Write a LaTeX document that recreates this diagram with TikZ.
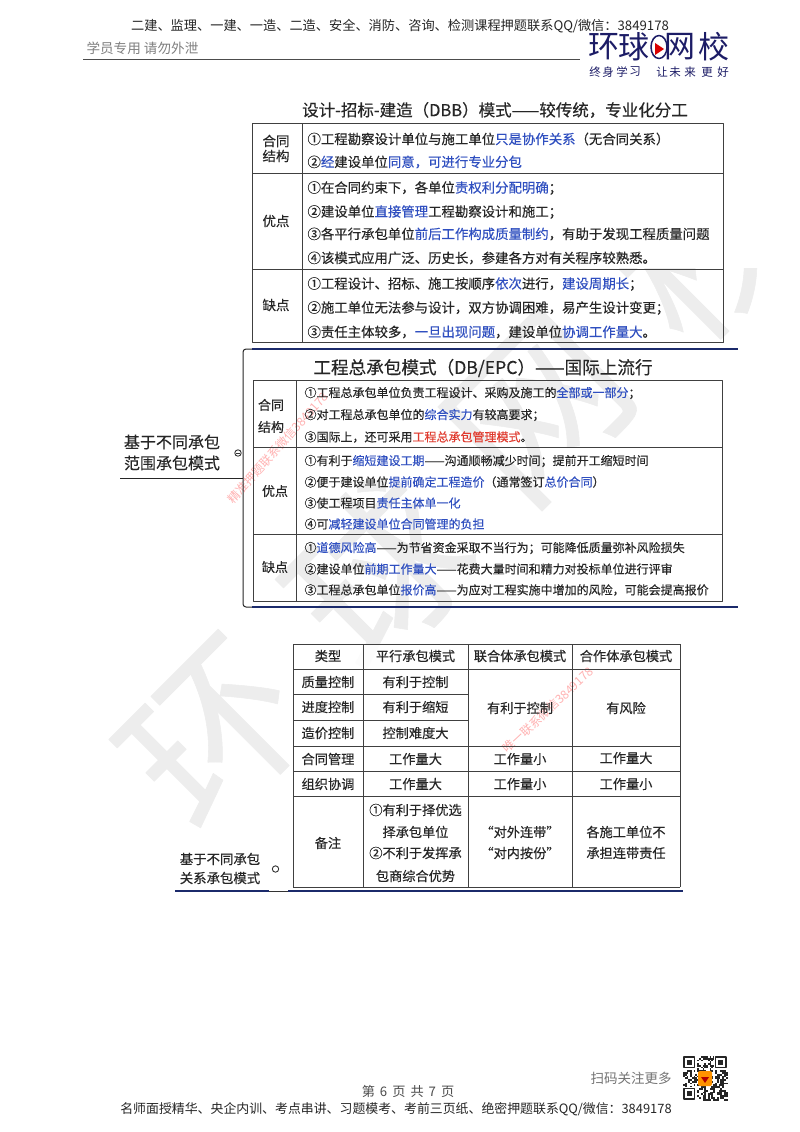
\documentclass[tikz,border=0pt]{standalone}
\usepackage{fontspec}
\setmainfont[FakeBold=0.3]{Noto Sans CJK SC}
\newfontfamily\lightcjk{Noto Sans CJK SC}
\definecolor{navy}{HTML}{1B2A6B}
\definecolor{logoblue}{HTML}{1C1C66}
\definecolor{hlblue}{HTML}{2F4FC0}
\definecolor{hlred}{HTML}{E03A2E}
\definecolor{inkgray}{HTML}{262626}
\newcommand{\hl}[1]{\textcolor{hlblue}{#1}}
\newcommand{\fs}[1]{\fontsize{#1}{#1}\selectfont}
\begin{document}
\begin{tikzpicture}[x=1pt, y=-1pt, line join=round, text=inkgray]
	\tikzset{
		grid line/.style={draw=black!75, line width=0.9pt},
		navy line/.style={draw=navy, line width=2.4pt},
		row one/.style={anchor=west, font=\fs{13.4}},
		row two/.style={anchor=west, font=\fs{12}},
		cell/.style={font=\fs{13.2}},
		side label/.style={font=\fs{13.5}},
		plain text/.style={font=\lightcjk\fs{13.2}}
	}
	\useasboundingbox[fill=white] (0,0) rectangle (800,1132);
	% watermark first
	\begin{scope}
		\clip (0,268) rectangle (800,1132);
		\foreach \c/\x/\y [count=\i] in {环/216/735,球/378/572,网/540/409,校/702/246}
		\node[gray!14, rotate=45, font=\fs{172}] (mark\i) at (\x,\y) {\c};
	\end{scope}
	\fill[white, opacity=0.85] (293,644) rectangle (680,887);
	\node[red!30, rotate=48, font=\lightcjk\fs{12}] (markA) at (278,448) {精准押题联系微信3849178};
	\node[red!30, rotate=43, font=\lightcjk\fs{12}] (markB) at (548,710) {唯一联系微信3849178};
	% page header
	\node[plain text] (head) at (400,26) {二建、监理、一建、一造、二造、安全、消防、咨询、检测课程押题联系QQ/微信：3849178};
	\node[plain text, gray, anchor=west, font=\lightcjk\fs{13.6}] (inner) at (83,48) {学员专用 请勿外泄};
	\draw[black!70, line width=0.9pt] (83,59.5) -- (580,59.5);
	\foreach \c/\x [count=\i] in {环/604,球/634,网/680,校/714}
	\node[logoblue, font=\lightcjk\fs{31}] (logo\i) at (\x,47) {\c};
	\draw[logoblue, line width=1.5pt] (659,47) ellipse (8 and 11.5);
	\fill[red!85!black] (655,43) -- (664,49) -- (655,55) -- cycle;
	\foreach \c/\x [count=\i] in {终/595,身/608,学/622,习/635,让/662,未/675,来/690,更/707,好/723}
	\node[logoblue, font=\lightcjk\fs{11.5}] (slogan\i) at (\x,72) {\c};
	% first table
	\node[font=\fs{16.5}] (titleA) at (495,110) {设计-招标-建造（DBB）模式——较传统，专业化分工};
	\draw[grid line] (252,123) rectangle (723,342);
	\draw[grid line] (302,123) -- (302,342);
	\foreach \y in {173,269}
	\draw[grid line] (252,\y) -- (723,\y);
	\foreach \y/\t in {141/合同,156/结构,221/优点,305/缺点}
	\node[side label] (sideA\y) at (276,\y) {\t};
	\foreach \y/\t in {
		139/{①工程勘察设计单位与施工单位\hl{只是协作关系}（无合同关系）},
		162/{②\hl{经}建设单位\hl{同意，可进行专业分包}},
		188/{①在合同约束下，各单位\hl{责权利分配明确}；},
		212/{②建设单位\hl{直接管理}工程勘察设计和施工；},
		234/{③各平行承包单位\hl{前后工作构成质量制约}，有助于发现工程质量问题},
		258/{④该模式应用广泛、历史长，参建各方对有关程序较熟悉。},
		284/{①工程设计、招标、施工按顺序\hl{依次}进行，\hl{建设周期长}；},
		308/{②施工单位无法参与设计，双方协调困难，易产生设计变更；},
		332/{③责任主体较多，\hl{一旦出现问题}，建设单位\hl{协调工作量大}。}}
	\node[row one] (lineA\y) at (304,\y) {\t};
	% second table
	\draw[navy line] (252,349) -- (738,349);
	\draw[navy line] (252,607) -- (738,607);
	\draw[black!85, line width=1pt, rounded corners=3pt] (252,349) -- (243,349) -- (243,607) -- (252,607);
	\node[font=\fs{17.6}] (titleB) at (483,368) {工程总承包模式（DB/EPC）——国际上流行};
	\draw[grid line] (253,380) rectangle (722,601);
	\draw[grid line] (296,380) -- (296,601);
	\foreach \y in {447,534}
	\draw[grid line] (253,\y) -- (722,\y);
	\foreach \x/\y/\t in {271/405/合同,271/427/结构,275/491/优点,275/567/缺点}
	\node[font=\fs{13}] (sideB\y) at (\x,\y) {\t};
	\foreach \y/\t in {
		393/{①工程总承包单位负责工程设计、采购及施工的\hl{全部或一部分}；},
		415/{②对工程总承包单位的\hl{综合实力}有较高要求；},
		437/{③国际上，还可采用\textcolor{hlred}{工程总承包管理模式}。},
		461/{①有利于\hl{缩短建设工期}——沟通顺畅减少时间；提前开工缩短时间},
		482/{②便于建设单位\hl{提前确定工程造价}（通常签订\hl{总价合同}）},
		503/{③使工程项目\hl{责任主体单一化}},
		524/{④可\hl{减轻建设单位合同管理的负担}},
		548/{①\hl{道德风险高}——为节省资金采取不当行为；可能降低质量弥补风险损失},
		569/{②建设单位\hl{前期工作量大}——花费大量时间和精力对投标单位进行评审},
		590/{③工程总承包单位\hl{报价高}——为应对工程实施中增加的风险，可能会提高报价}}
	\node[row two] (lineB\y) at (301,\y) {\t};
	% left labels
	\node[font=\fs{16}] (modeA) at (172,442) {基于不同承包};
	\node[font=\fs{16}] (modeB) at (172,463) {范围承包模式};
	\draw[black!85, line width=1pt] (120,478) -- (243,478);
	\draw[black!80, line width=0.9pt] (238,453) circle (3.2);
	\draw[black!80, line width=0.8pt] (236,453) -- (240,453);
	% third table
	\foreach \x in {293,363,468,572,680}
	\draw[grid line] (\x,644) -- (\x,887);
	\foreach \y in {644,669,746,771,796,887}
	\draw[grid line] (293,\y) -- (680,\y);
	\foreach \y in {694,720}
	\draw[grid line] (293,\y) -- (468,\y);
	\foreach \x/\y/\t in {
		328/656/类型,415.5/656/平行承包模式,520/656/联合体承包模式,626/656/合作体承包模式,
		328/682/质量控制,415.5/682/有利于控制,328/707/进度控制,415.5/707/有利于缩短,
		328/733/造价控制,415.5/733/控制难度大,520/708/有利于控制,626/708/有风险,
		328/759/合同管理,415.5/759/工作量大,520/759/工作量小,626/758/工作量大,
		328/784/组织协调,415.5/784/工作量大,520/784/工作量小,626/784/工作量小,
		328/843/备注,415.5/810/①有利于择优选,415.5/832/择承包单位,415.5/853/②不利于发挥承,415.5/876/包商综合优势,
		520/832/“对外连带”,520/853/“对内按份”,626/832/各施工单位不,626/853/承担连带责任}
	\node[cell] (cell\x-\y) at (\x,\y) {\t};
	\node[font=\fs{13.4}] (kindA) at (220,859) {基于不同承包};
	\node[font=\fs{13.4}] (kindB) at (220,878) {关系承包模式};
	\draw[black!80, line width=0.9pt] (275.5,869) circle (3.2);
	\draw[navy line, line width=1.8pt] (175,891) -- (269,891);
	\draw[black!80, line width=0.8pt] (269,891) -- (288,891);
	\draw[navy line, line width=1.8pt] (288,891) -- (683,891);
	% page footer
	\node[plain text, gray!90!black, font=\lightcjk\fs{13.5}] (scan) at (631,1078) {扫码关注更多};
	\node[plain text, black!70] (page) at (408,1091) {第\hspace{5pt}6\hspace{5pt}页\hspace{5pt}共\hspace{5pt}7\hspace{5pt}页};
	\node[plain text, font=\lightcjk\fs{12.9}] (foot) at (396,1109) {名师面授精华、央企内训、考点串讲、习题模考、考前三页纸、绝密押题联系QQ/微信：3849178};
	\pgfmathsetseed{11}
	\foreach \i in {0,...,24}
	\foreach \j in {0,...,24}{
		\pgfmathrandominteger{\bit}{0}{1}
		\ifnum\bit=1 \fill[black!85] (683+\i*1.78,1056+\j*1.78) rectangle ++(1.78,1.78); \fi
	}
	\foreach \x/\y in {683/1056,714.5/1056,683/1087.5}{
		\fill[white] (\x-1,\y-1) rectangle ++(14.5,14.5);
		\draw[black!85, line width=1.7pt] (\x+0.9,\y+0.9) rectangle ++(10.7,10.7);
		\fill[black!85] (\x+3.6,\y+3.6) rectangle ++(5.3,5.3);
	}
	\fill[orange!85!yellow, rounded corners=2pt] (698,1071) rectangle (712,1086);
	\fill[red!70!black] (701,1077) -- (709,1077) -- (705,1083) -- cycle;
\end{tikzpicture}
\end{document}
